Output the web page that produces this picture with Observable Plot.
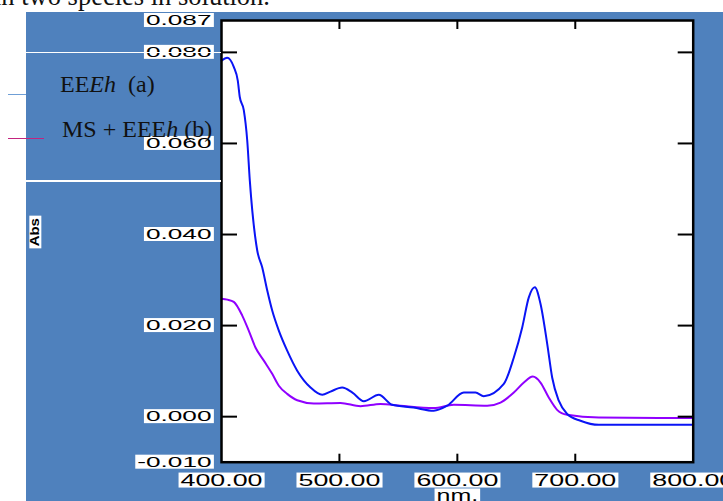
<!DOCTYPE html>
<html><head><meta charset="utf-8">
<script src="https://cdn.jsdelivr.net/npm/d3@7"></script>
<script src="https://cdn.jsdelivr.net/npm/@observablehq/plot@0.6"></script>
<style>
html,body{margin:0;padding:0;background:#fff;overflow:hidden;}
#wrap{position:relative;width:723px;height:501px;overflow:hidden;background:#fff;}
#bg{position:absolute;left:26px;top:12px;right:0;bottom:0;background:#4f81bd;}
#chart{position:absolute;left:0;top:0;}
.hline{position:absolute;background:#fff;}
.serif{font-family:"Liberation Serif","Times New Roman",serif;color:#111;position:absolute;white-space:nowrap;}
.leg{position:absolute;}
</style></head><body>
<div id="wrap">
  <div class="serif" style="right:453px;top:-17px;font-size:26.5px;line-height:26.5px;">in two species in solution.</div>
  <div id="bg"></div>
  <div id="chart"></div>
  <div class="hline" style="left:26px;top:51.5px;width:195px;height:1.5px"></div>
  <div class="hline" style="left:26px;top:180.3px;width:195px;height:1.7px"></div>
  <div id="legend"></div>
</div>
<script>
// Series A: EEEh (a)
const wlA = [400, 404.8, 410.4, 413.8, 415.5, 418.9, 421.8, 424, 430.3, 434.5, 438.8, 443, 448.6, 455.7, 464.2, 475.5, 485.4, 492.4, 502.3, 511, 520.7, 533.4, 544.7, 562.8, 580, 591.4, 605.5, 615.4, 622.4, 639.4, 647.9, 655, 660.6, 665.7, 670.5, 676.2, 680.4, 686, 693.1, 704.4, 720, 800];
const absA = [0.0782, 0.0788, 0.0768, 0.0738, 0.0702, 0.0673, 0.0607, 0.0519, 0.0365, 0.0328, 0.0277, 0.0233, 0.0189, 0.0145, 0.0101, 0.0064, 0.0048, 0.0055, 0.0064, 0.0053, 0.0034, 0.0048, 0.0026, 0.0020, 0.0013, 0.0024, 0.0053, 0.0053, 0.0045, 0.0072, 0.0130, 0.0196, 0.0262, 0.0284, 0.0248, 0.0160, 0.0086, 0.0035, 0.0006, -0.0009, -0.0018, -0.0018];
// Series B: MS + EEEh (b)
const wlB = [400, 405, 410.4, 417.6, 423.1, 428.8, 435.9, 443, 448.6, 455.7, 464.2, 478.3, 500.9, 517.9, 534.8, 551.8, 580, 597, 625.3, 636.6, 647.9, 656.4, 664, 670.5, 677.5, 684.6, 693.1, 720, 800];
const absB = [0.0259, 0.0257, 0.0252, 0.0222, 0.0189, 0.0152, 0.0123, 0.0094, 0.0068, 0.0050, 0.0036, 0.0029, 0.0030, 0.0023, 0.0028, 0.0024, 0.0019, 0.0026, 0.0024, 0.0031, 0.0053, 0.0075, 0.0088, 0.0075, 0.0042, 0.0015, 0.0004, -0.0002, -0.0003];

const xDomain = [400, 800];
const yDomain = [-0.010, 0.087];
const xTickLabels = [400, 500, 600, 700, 800];
const xTickMarks = [500, 600, 700];
const yTickLabels = [0.087, 0.080, 0.060, 0.040, 0.020, 0.000, -0.010];
const yTickMarks = [0.080, 0.060, 0.040, 0.020, 0.000];
const xTitle = "nm.";
const yTitle = "Abs";
const legendLabels = ["EE<i>Eh</i>&nbsp; (a)", "MS + EEE<i>h</i> (b)"];
const legendSwatch = ["#6f9fd6", "#c3247f"];
const lineColors = ["#0a14f5", "#9000ff"];

const dataA = wlA.map((w, i) => ({nm: w, abs: absA[i]}));
const dataB = wlB.map((w, i) => ({nm: w, abs: absB[i]}));

const plot = Plot.plot({
  width: 723, height: 501,
  marginLeft: 221, marginRight: 30.3, marginTop: 20, marginBottom: 39.3,
  style: {background: "transparent", overflow: "visible", fontFamily: '"Liberation Sans", Arial, sans-serif', color: "#000"},
  x: {domain: xDomain},
  y: {domain: yDomain},
  marks: [
    Plot.frame({fill: "white", stroke: "none"}),
    Plot.line(dataB, {x: "nm", y: "abs", stroke: lineColors[1], strokeWidth: 2, curve: "monotone-x"}),
    Plot.line(dataA, {x: "nm", y: "abs", stroke: lineColors[0], strokeWidth: 2, curve: "monotone-x"}),
    Plot.frame({stroke: "black", strokeWidth: 2.5}),
    Plot.axisY({ticks: yTickMarks, anchor: "left", tickSize: -16, strokeWidth: 2, fill: "none", label: null}),
    Plot.axisY({ticks: yTickMarks, anchor: "right", tickSize: -16, strokeWidth: 2, fill: "none", label: null}),
    Plot.axisX({ticks: xTickMarks, anchor: "top", tickSize: -8, strokeWidth: 2, fill: "none", label: null}),
    Plot.axisX({ticks: xTickMarks, anchor: "bottom", tickSize: -8, strokeWidth: 2, fill: "none", label: null}),
    Plot.axisY({ticks: yTickLabels, anchor: "left", tickSize: 0, tickPadding: 10, tickFormat: d => d.toFixed(3), fontSize: 14, label: null}),
    Plot.axisX({ticks: xTickLabels, anchor: "bottom", tickSize: 0, tickPadding: 12, tickFormat: d => d.toFixed(2), fontSize: 16, label: null}),
    Plot.text([xTitle], {text: d => d, frameAnchor: "bottom", dy: 27.9, lineAnchor: "top", fontSize: 16}),
    Plot.text([yTitle], {text: d => d, frameAnchor: "left", dx: -186, dy: 5, rotate: -90, fontSize: 12, fontWeight: "bold"})
  ]
});
document.getElementById("chart").append(plot);

// stretched labels on white boxes
function boxText(t, f) {
  const bb = t.getBBox();
  t.setAttribute("textLength", bb.width * f);
  t.setAttribute("lengthAdjust", "spacingAndGlyphs");
  const b2 = t.getBBox();
  const r = document.createElementNS("http://www.w3.org/2000/svg", "rect");
  r.setAttribute("x", b2.x - 2);
  r.setAttribute("y", b2.y + 1);
  r.setAttribute("width", b2.width + 4);
  r.setAttribute("height", b2.height - 2);
  r.setAttribute("fill", "white");
  r.setAttribute("stroke", "none");
  if (t.getAttribute("transform")) r.setAttribute("transform", t.getAttribute("transform"));
  t.parentNode.insertBefore(r, t);
}
plot.querySelectorAll('g[aria-label="y-axis tick label"] text').forEach(t => boxText(t, 1.86));
plot.querySelectorAll('g[aria-label="x-axis tick label"] text').forEach(t => boxText(t, 1.67));
plot.querySelectorAll('text').forEach(t => {
  if (t.textContent === xTitle) boxText(t, 1.56);
  else if (t.textContent === yTitle) boxText(t, 1.23);
});

// legend
const legend = document.getElementById("legend");
const swatchPos = [{top: 94, width: 18}, {top: 137.5, width: 36}];
const textPos = [{left: 60, top: 72.2}, {left: 62, top: 116.6}];
legendLabels.forEach((lab, i) => {
  const s = document.createElement("div");
  s.className = "leg";
  s.style.cssText = `left:8px;top:${swatchPos[i].top}px;width:${swatchPos[i].width}px;height:1.4px;background:${legendSwatch[i]}`;
  legend.append(s);
  const t = document.createElement("div");
  t.className = "serif";
  t.style.cssText = `left:${textPos[i].left}px;top:${textPos[i].top}px;font-size:24px;line-height:24px;`;
  t.innerHTML = lab;
  legend.append(t);
});
</script>
</body></html>
